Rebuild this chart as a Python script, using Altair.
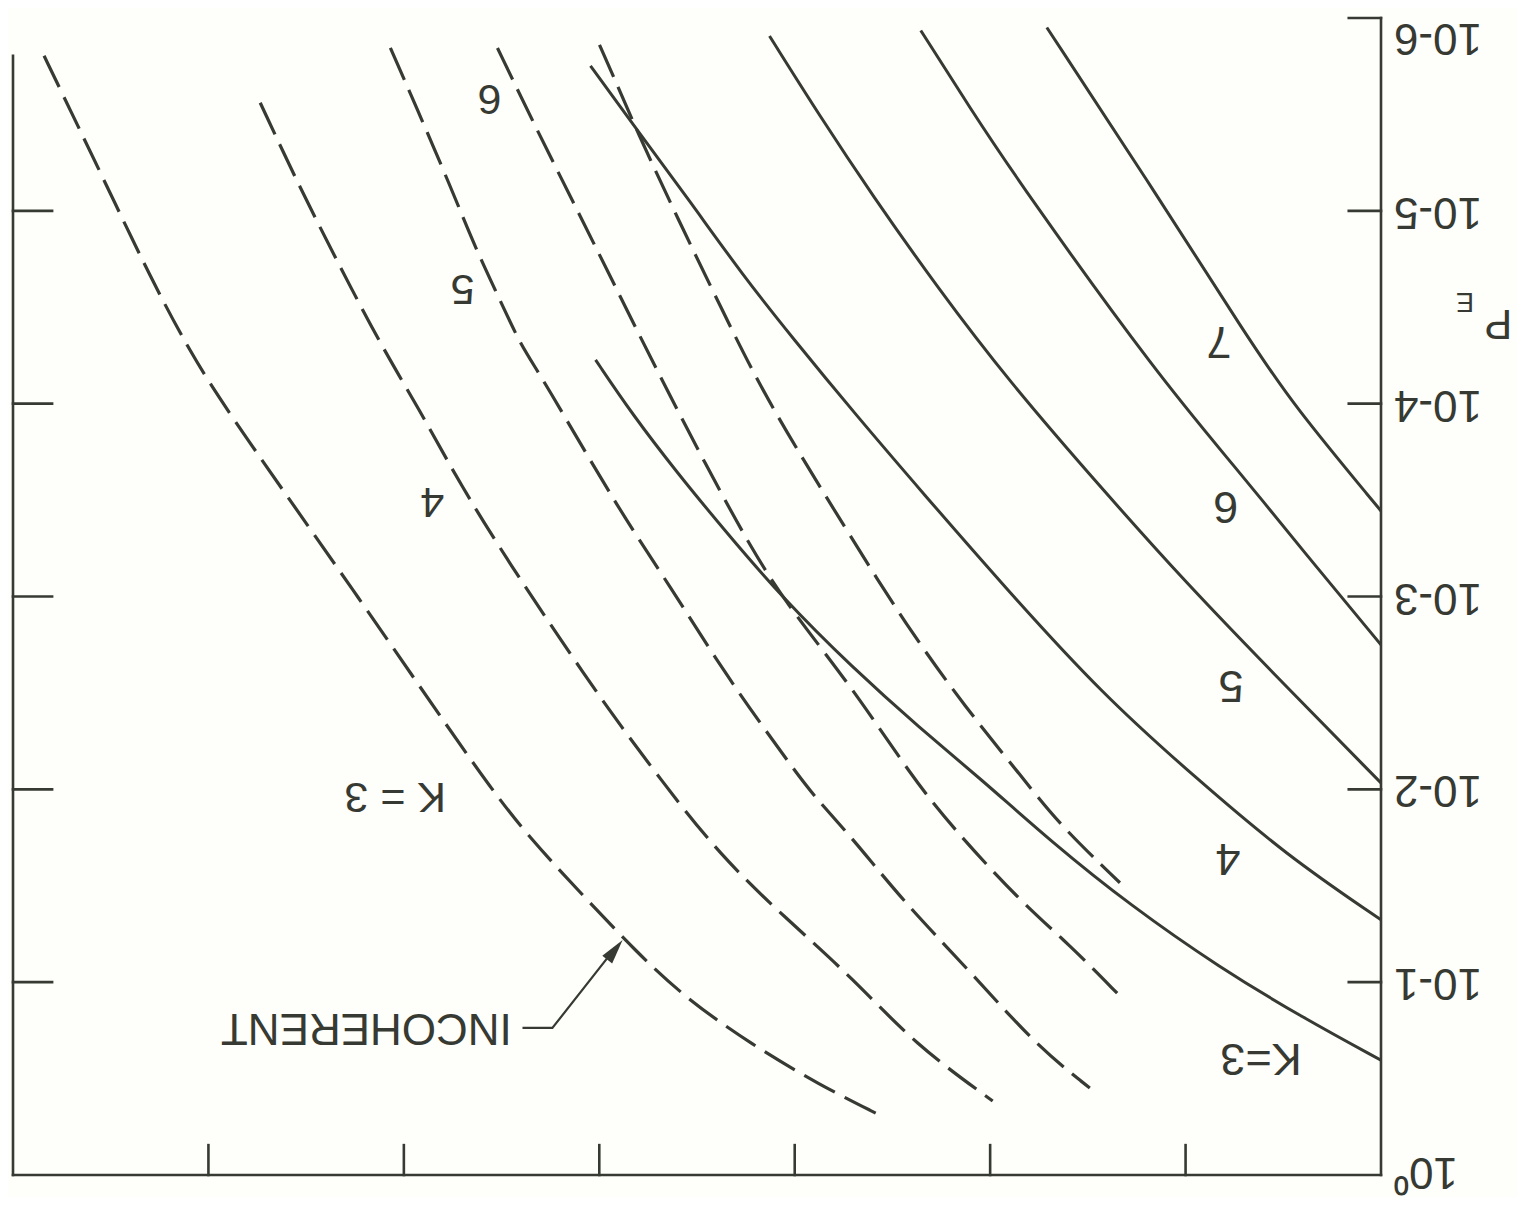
import altair as alt
import pandas as pd

# ---------------- data read from the (upside-down) figure ----------------
# u  : horizontal position in tick units (0 = right-hand frame edge, 7 = left-hand edge)
# pe : probability of error P_E (log axis, 1e-6 at top, 1 at bottom)

coh_k7_u = [1.710, 1.203, 0.681, 0.451, 0.0]
coh_k7_pe = [1.12e-6, 6.75e-6, 4.56e-5, 1.01e-4, 3.60e-4]

coh_k6_u = [2.355, 2.104, 1.833, 1.132, 0.742, 0.399, 0.0]
coh_k6_pe = [1.16e-6, 2.92e-6, 7.60e-6, 7.35e-5, 2.15e-4, 5.79e-4, 1.78e-3]

coh_k5_u = [3.129, 2.873, 2.601, 2.268, 1.910, 1.423, 0.998, 0.553, 0.0]
coh_k5_pe = [1.24e-6, 3.21e-6, 8.36e-6, 2.51e-5, 7.53e-5, 2.80e-4, 8.49e-4, 2.49e-3, 9.27e-3]

coh_k4_u = [4.045, 3.815, 3.538, 3.267, 3.011, 2.688, 2.345, 1.935, 1.423, 0.947, 0.486, 0.0]
coh_k4_pe = [1.77e-6, 3.71e-6, 8.87e-6, 2.15e-5, 4.56e-5, 1.14e-4, 2.90e-4, 8.71e-4,
             3.24e-3, 8.73e-3, 2.19e-2, 4.75e-2]

coh_k3_u = [4.019, 3.830, 3.600, 3.369, 3.062, 2.704, 2.360, 2.053, 1.679, 1.285, 0.824, 0.399, 0.0]
coh_k3_pe = [5.93e-5, 1.14e-4, 2.29e-4, 4.41e-4, 1.02e-3, 2.34e-3, 4.81e-3, 8.73e-3,
             1.90e-2, 3.98e-2, 8.43e-2, 1.53e-1, 2.54e-1]

inc_k3_u = [6.841, 6.713, 6.508, 6.303, 6.098, 5.893, 5.228, 4.598, 4.357, 4.071, 3.815,
            3.559, 3.216, 2.873, 2.565]
inc_k3_pe = [1.57e-6, 2.92e-6, 7.87e-6, 2.15e-5, 5.32e-5, 1.14e-4, 1.02e-3, 8.73e-3,
             1.79e-2, 3.66e-2, 6.89e-2, 1.21e-1, 2.12e-1, 3.41e-1, 4.89e-1]

inc_k4_u = [5.735, 5.556, 5.351, 5.110, 4.905, 4.711, 4.444, 4.204, 3.948, 3.692, 3.385,
            3.047, 2.704, 2.381, 1.987]
inc_k4_pe = [2.75e-6, 6.75e-6, 1.75e-5, 5.14e-5, 1.14e-4, 2.64e-4, 7.11e-4, 1.64e-3,
             3.92e-3, 8.73e-3, 2.19e-2, 4.65e-2, 9.51e-2, 2.12e-1, 4.13e-1]

inc_k5_u = [5.069, 4.941, 4.752, 4.634, 4.496, 4.403, 4.291, 3.897, 3.641, 3.354, 3.047,
            2.908, 2.704, 2.447, 2.104, 1.767, 1.490]
inc_k5_pe = [1.43e-6, 2.82e-6, 7.87e-6, 1.56e-5, 3.08e-5, 4.95e-5, 7.35e-5, 3.60e-4,
             8.71e-4, 2.55e-3, 6.87e-3, 1.07e-2, 1.79e-2, 3.79e-2, 8.75e-2, 2.12e-1, 3.54e-1]

inc_k6_u = [4.521, 4.342, 4.137, 3.932, 3.712, 3.456, 3.216, 3.026, 2.704, 2.396, 2.192,
            1.848, 1.592, 1.336]
inc_k6_pe = [1.43e-6, 3.41e-6, 8.87e-6, 2.31e-5, 6.52e-5, 2.07e-4, 5.79e-4, 1.15e-3,
             2.98e-3, 8.73e-3, 1.58e-2, 3.79e-2, 6.41e-2, 1.18e-1]

inc_k7_u = [3.999, 3.917, 3.815, 3.600, 3.369, 3.200, 2.995, 2.719, 2.432, 2.125, 1.833,
            1.644, 1.336]
inc_k7_pe = [1.38e-6, 2.12e-6, 3.71e-6, 1.09e-5, 3.30e-5, 7.35e-5, 1.69e-4, 4.79e-4,
             1.40e-3, 3.78e-3, 8.73e-3, 1.53e-2, 3.05e-2]

# curve labels
coh_label_text = ["7", "6", "5", "4", "K=3"]
coh_label_u = [0.829, 0.794, 0.768, 0.783, 0.614]
coh_label_pe = [4.72e-5, 3.39e-4, 2.88e-3, 2.27e-2, 0.247]

inc_label_text = ["6", "5", "4", "K = 3"]
inc_label_u = [4.562, 4.700, 4.854, 5.044]
inc_label_pe = [2.59e-6, 2.51e-5, 3.19e-4, 1.08e-2]

# "INCOHERENT" annotation and its arrow
note_text = ["INCOHERENT"]
note_u = [5.192]
note_pe = [0.171]
leader_u = [4.393, 4.240, 3.926]
leader_pe = [0.1728, 0.1728, 0.068]
arrow_u = [3.920]
arrow_pe = [0.068]

# axes
y_tick_values = [1e-6, 1e-5, 1e-4, 1e-3, 1e-2, 1e-1, 1.0]
y_tick_labels = ["10-6", "10-5", "10-4", "10-3", "10-2", "10-1", "10\u2070"]
y_label_pos = [1.25e-6, 1e-5, 1e-4, 1e-3, 1e-2, 1e-1, 0.95]
left_tick_values = [1e-5, 1e-4, 1e-3, 1e-2, 1e-1]
x_tick_values = [1, 2, 3, 4, 5, 6]
left_border_top = 1.57e-6

# ---------------- styling ----------------
INK = "#363a32"
BG = "#fefefb"
FONT = "Liberation Sans"

X_SCALE = alt.Scale(domain=[0, 7], reverse=True, nice=False, zero=False)
Y_SCALE = alt.Scale(type="log", domain=[1e-6, 1], reverse=True, nice=False)


def xy(xf="u", yf="pe"):
    return dict(
        x=alt.X(f"{xf}:Q", scale=X_SCALE, axis=None),
        y=alt.Y(f"{yf}:Q", scale=Y_SCALE, axis=None),
    )


def curves(defs):
    rows = []
    for name, us, pes in defs:
        for u, p in zip(us, pes):
            rows.append({"curve": name, "u": u, "pe": p})
    return pd.DataFrame(rows)


coh_df = curves([
    ("K7", coh_k7_u, coh_k7_pe),
    ("K6", coh_k6_u, coh_k6_pe),
    ("K5", coh_k5_u, coh_k5_pe),
    ("K4", coh_k4_u, coh_k4_pe),
    ("K3", coh_k3_u, coh_k3_pe),
])
inc_df = curves([
    ("K3", inc_k3_u, inc_k3_pe),
    ("K4", inc_k4_u, inc_k4_pe),
    ("K5", inc_k5_u, inc_k5_pe),
    ("K6", inc_k6_u, inc_k6_pe),
    ("K7", inc_k7_u, inc_k7_pe),
])

solid = alt.Chart(coh_df).mark_line(
    color=INK, strokeWidth=3, interpolate="basis", clip=True
).encode(detail="curve:N", **xy())

dashed = alt.Chart(inc_df).mark_line(
    color=INK, strokeWidth=3.2, interpolate="basis", strokeDash=[35, 11], clip=True
).encode(detail="curve:N", **xy())

# frame and inward ticks
seg = []
seg.append({"u": 0, "u2": 7, "pe": 1.0, "pe2": 1.0})                      # bottom edge
seg.append({"u": 0, "u2": 0, "pe": 1e-6, "pe2": 1.0})                     # right edge (P_E axis)
seg.append({"u": 7, "u2": 7, "pe": left_border_top, "pe2": 1.0})          # left edge
for v in y_tick_values[:-1]:
    seg.append({"u": 0, "u2": 0.165, "pe": v, "pe2": v})
for v in left_tick_values:
    seg.append({"u": 7, "u2": 6.8, "pe": v, "pe2": v})
for v in x_tick_values:
    seg.append({"u": v, "u2": v, "pe": 1.0, "pe2": 0.70})
seg_df = pd.DataFrame(seg)

frame = alt.Chart(seg_df).mark_rule(color=INK, strokeWidth=2.6, strokeCap="square").encode(
    x=alt.X("u:Q", scale=X_SCALE, axis=None),
    x2="u2:Q",
    y=alt.Y("pe:Q", scale=Y_SCALE, axis=None),
    y2="pe2:Q",
)

# P_E axis labels (upside down, outside the right edge)
ylab_df = pd.DataFrame({"u": [-0.066] * len(y_tick_values), "pe": y_label_pos, "t": y_tick_labels})
ylabels = alt.Chart(ylab_df).mark_text(
    angle=180, align="right", baseline="middle", font=FONT, fontSize=44, color=INK
).encode(text="t:N", **xy())

pe_title_p = alt.Chart(pd.DataFrame({"u": [-0.60], "pe": [3.81e-5], "t": ["P"]})).mark_text(
    angle=180, align="center", baseline="middle", font=FONT, fontSize=42, color=INK
).encode(text="t:N", **xy())
pe_title_e = alt.Chart(pd.DataFrame({"u": [-0.43], "pe": [2.93e-5], "t": ["E"]})).mark_text(
    angle=180, align="center", baseline="middle", font=FONT, fontSize=27, color=INK
).encode(text="t:N", **xy())

coh_lab = alt.Chart(pd.DataFrame({"u": coh_label_u, "pe": coh_label_pe, "t": coh_label_text})).mark_text(
    angle=180, align="center", baseline="middle", font=FONT, fontSize=45, color=INK
).encode(text="t:N", **xy())

inc_lab = alt.Chart(pd.DataFrame({"u": inc_label_u, "pe": inc_label_pe, "t": inc_label_text})).mark_text(
    angle=180, align="center", baseline="middle", font=FONT, fontSize=43, color=INK
).encode(text="t:N", **xy())

note = alt.Chart(pd.DataFrame({"u": note_u, "pe": note_pe, "t": note_text})).mark_text(
    angle=180, align="center", baseline="middle", font=FONT, fontSize=44, color=INK
).encode(text="t:N", **xy())

leader = alt.Chart(pd.DataFrame({"u": leader_u, "pe": leader_pe, "o": [0, 1, 2]})).mark_line(
    color=INK, strokeWidth=2.2
).encode(order="o:Q", **xy())

arrow = alt.Chart(pd.DataFrame({"u": arrow_u, "pe": arrow_pe})).mark_point(
    shape="M0,-1L0.5,1L-0.5,1Z", size=625, filled=True, opacity=1, angle=38, color=INK
).encode(**xy())

chart = alt.layer(
    frame, solid, dashed, ylabels, pe_title_p, pe_title_e, coh_lab, inc_lab, note, leader, arrow
).properties(
    width=1368,
    height=1157,
    autosize=alt.AutoSizeParams(type="none"),
    padding={"left": 5, "top": 10, "right": 136, "bottom": 22},
    background=BG,
).configure_view(stroke=None)

chart.save("out.html", embed_options={"renderer": "svg", "actions": False})
